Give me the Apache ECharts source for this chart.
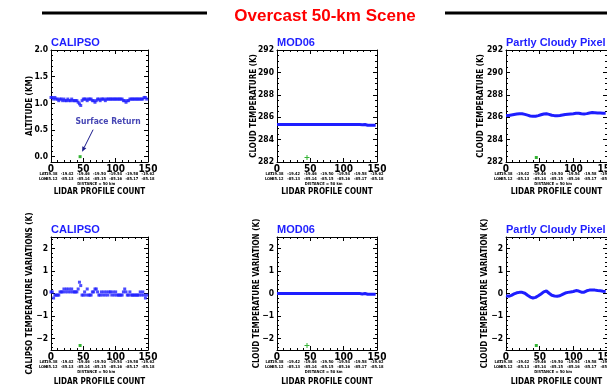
<!DOCTYPE html>
<html>
<head>
<meta charset="utf-8">
<script src="https://cdn.jsdelivr.net/npm/echarts@6/dist/echarts.min.js"></script>
<style>
  html, body { margin: 0; padding: 0; background: #fff; }
  #chart { width: 607px; height: 389px; }
</style>
</head>
<body>
<div id="chart"></div>
<script>
// ---- data ----
const profiles = [0, 2, 4, 6, 8, 10, 12, 14, 16, 18, 20, 22, 24, 26, 28, 30, 32, 34, 36, 38,
  40, 42, 44, 46, 48, 50, 52, 54, 56, 58, 60, 62, 64, 66, 68, 70, 72, 74, 76, 78,
  80, 82, 84, 86, 88, 90, 92, 94, 96, 98, 100, 102, 104, 106, 108, 110, 112, 114, 116, 118,
  120, 122, 124, 126, 128, 130, 132, 134, 136, 138, 140, 142, 144, 146, 148];

// CALIPSO cloud top altitude (km)
const calAlt = [1.11, 1.11, 1.08, 1.11, 1.08, 1.08, 1.05, 1.08, 1.08, 1.05,
  1.08, 1.05, 1.05, 1.08, 1.05, 1.05, 1.08, 1.05, 1.05, 1.05,
  1.05, 1.02, 0.99, 0.96, 1.05, 1.08, 1.08, 1.08, 1.05, 1.08,
  1.08, 1.08, 1.05, 1.05, 1.02, 1.05, 1.08, 1.08, 1.05, 1.08,
  1.08, 1.08, 1.05, 1.08, 1.08, 1.08, 1.08, 1.08, 1.08, 1.08,
  1.08, 1.08, 1.08, 1.08, 1.08, 1.08, 1.05, 1.05, 1.02, 1.05,
  1.05, 1.08, 1.08, 1.08, 1.08, 1.08, 1.08, 1.08, 1.08, 1.08,
  1.08, 1.08, 1.11, 1.11, 1.08];

// MOD06 cloud temperature (K)
const mod06T = [285.35, 285.35, 285.35, 285.35, 285.35, 285.35, 285.35, 285.35, 285.35, 285.35,
  285.35, 285.35, 285.35, 285.35, 285.35, 285.35, 285.35, 285.35, 285.35, 285.35,
  285.35, 285.35, 285.35, 285.35, 285.35, 285.35, 285.35, 285.35, 285.35, 285.35,
  285.35, 285.35, 285.35, 285.35, 285.35, 285.35, 285.35, 285.35, 285.35, 285.35,
  285.35, 285.35, 285.35, 285.35, 285.35, 285.35, 285.35, 285.35, 285.35, 285.35,
  285.35, 285.35, 285.35, 285.35, 285.35, 285.35, 285.35, 285.35, 285.35, 285.35,
  285.35, 285.35, 285.35, 285.35, 285.33, 285.3, 285.35, 285.3, 285.28, 285.28,
  285.28, 285.28, 285.28, 285.28, 285.28];

// partly cloudy pixel cloud temperature (K)
const pcT = [286.15, 286.15, 286.16, 286.18, 286.2, 286.22, 286.24, 286.26, 286.28, 286.3,
  286.31, 286.31, 286.3, 286.28, 286.25, 286.22, 286.18, 286.14, 286.11, 286.09,
  286.08, 286.08, 286.09, 286.11, 286.14, 286.18, 286.22, 286.26, 286.29, 286.31,
  286.31, 286.29, 286.25, 286.21, 286.17, 286.15, 286.14, 286.13, 286.13, 286.14,
  286.16, 286.18, 286.2, 286.22, 286.24, 286.26, 286.27, 286.28, 286.29, 286.3,
  286.31, 286.33, 286.35, 286.36, 286.36, 286.34, 286.31, 286.29, 286.29, 286.3,
  286.32, 286.35, 286.38, 286.4, 286.41, 286.41, 286.4, 286.39, 286.38, 286.37,
  286.37, 286.36, 286.35, 286.35, 286.35];

// CALIPSO temperature variations (K)
const calVar = [0.07, 0.07, -0.2, -0.07, -0.07, -0.07, -0.07, 0.07, 0.07, 0.07,
  0.2, 0.07, 0.2, 0.07, 0.2, 0.07, 0.2, 0.07, 0.07, 0.07,
  0.07, 0.2, 0.5, 0.35, -0.07, -0.07, 0.07, -0.07, 0.2, -0.07,
  -0.07, -0.07, 0.07, 0.07, 0.2, 0.2, 0.07, -0.07, -0.07, 0.07,
  -0.07, 0.07, -0.07, 0.07, -0.07, 0.07, 0.07, -0.07, 0.07, -0.07,
  0.07, -0.07, -0.07, -0.07, -0.07, -0.07, 0.07, 0.2, 0.07, -0.07,
  -0.07, 0.07, -0.07, -0.07, -0.07, -0.07, -0.07, -0.07, -0.07, 0.07,
  -0.07, 0.07, -0.07, -0.2, -0.07];

// MOD06 cloud temperature variation (K)
const mod06V = [0, 0, 0, 0, 0, 0, 0, 0, 0, 0,
  0, 0, 0, 0, 0, 0, 0, 0, 0, 0,
  0, 0, 0, 0, 0, 0, 0, 0, 0, 0,
  0, 0, 0, 0, 0, 0, 0, 0, 0, 0,
  0, 0, 0, 0, 0, 0, 0, 0, 0, 0,
  0, 0, 0, 0, 0, 0, 0, 0, 0, 0,
  0, 0, 0, 0, -0.02, -0.05, 0, -0.03, -0.03, -0.03,
  -0.03, -0.03, -0.03, -0.03, -0.03];

// partly cloudy pixel cloud temperature variation (K)
const pcV = [-0.1, -0.11, -0.12, -0.1, -0.08, -0.05, -0.02, 0.01, 0.03, 0.05,
  0.05, 0.06, 0.05, 0.03, 0.01, -0.03, -0.08, -0.13, -0.16, -0.19,
  -0.2, -0.19, -0.17, -0.14, -0.1, -0.06, -0.02, 0.03, 0.07, 0.1,
  0.11, 0.07, 0.01, -0.04, -0.08, -0.1, -0.11, -0.12, -0.12, -0.11,
  -0.1, -0.07, -0.04, -0.01, 0.02, 0.04, 0.05, 0.06, 0.07, 0.08,
  0.09, 0.11, 0.13, 0.13, 0.11, 0.08, 0.06, 0.05, 0.06, 0.09,
  0.12, 0.14, 0.15, 0.16, 0.16, 0.15, 0.15, 0.14, 0.13, 0.12,
  0.12, 0.11, 0.1, 0.1, 0.09];

// surface return marker (green)
const surfProfile = 45;
const surfValues = [0.0, 282.4, 282.4, -2.3, -2.3, -2.3];

// tick values
const altMajor = [0, 0.5, 1, 1.5, 2];
const altMinor = [0.1, 0.2, 0.3, 0.4, 0.6, 0.7, 0.8, 0.9, 1.1, 1.2, 1.3, 1.4, 1.6, 1.7, 1.8, 1.9];
const tempMajor = [282, 284, 286, 288, 290, 292];
const tempMinor = [282.5, 283, 283.5, 284.5, 285, 285.5, 286.5, 287, 287.5, 288.5, 289, 289.5, 290.5, 291, 291.5];
const varMajor = [-2, -1, 0, 1, 2];
const varMinor = [-2.4, -2.2, -1.8, -1.6, -1.4, -1.2, -0.8, -0.6, -0.4, -0.2,
  0.2, 0.4, 0.6, 0.8, 1.2, 1.4, 1.6, 1.8, 2.2, 2.4];

// tiny lat/lon labels under the profile axis
const geoProfiles = [0, 25, 50, 75, 100, 125, 150];
const latLabels = ['-19.38', '-19.42', '-19.46', '-19.50', '-19.54', '-19.58', '-19.62'];
const lonLabels = ['-85.12', '-85.13', '-85.14', '-85.15', '-85.16', '-85.17', '-85.18'];
const geoHeads = ['LAT', 'LON'];
const distText = 'DISTANCE = 50 km';

// ---- layout / styles ----
const NARROW = "'Liberation Sans Narrow','Arial Narrow','DejaVu Sans Condensed',sans-serif";
const SANS = "'Liberation Sans',Arial,sans-serif";
const BLUE = '#1e1eff';
const GREEN = '#00a000';
const PLUS = 'path://M2,0H3V2H5V3H3V5H2V3H0V2H2Z';

const layout = [
  { left: 51, top: 50, width: 97, height: 112 },
  { left: 277, top: 50, width: 100, height: 112 },
  { left: 506, top: 50, width: 101, height: 112 },
  { left: 51, top: 237, width: 97, height: 113 },
  { left: 277, top: 237, width: 100, height: 113 },
  { left: 506, top: 237, width: 101, height: 113 }
];

const minusFmt = v => String(v).replace('-', '\u2212');

const panels = [
  { title: 'CALIPSO', yName: 'ALTITUDE (KM)', nameX: 30, min: -0.1, max: 2, major: altMajor, minor: altMinor, fmt: v => v.toFixed(1), values: calAlt, dots: true, plus: false },
  { title: 'MOD06', yName: 'CLOUD TEMPERATURE (K)', nameX: 254, min: 282, max: 292, major: tempMajor, minor: tempMinor, fmt: v => String(v), values: mod06T, dots: false, plus: true },
  { title: 'Partly Cloudy Pixel', yName: 'CLOUD TEMPERATURE (K)', nameX: 481, min: 282, max: 292, major: tempMajor, minor: tempMinor, fmt: v => String(v), values: pcT, dots: false, plus: false },
  { title: 'CALIPSO', yName: 'CALIPSO TEMPERATURE VARIATIONS (K)', nameX: 30, min: -2.5, max: 2.5, major: varMajor, minor: varMinor, fmt: minusFmt, values: calVar, dots: true, plus: false },
  { title: 'MOD06', yName: 'CLOUD TEMPERATURE VARIATION (K)', nameX: 257, min: -2.5, max: 2.5, major: varMajor, minor: varMinor, fmt: minusFmt, values: mod06V, dots: false, plus: true },
  { title: 'Partly Cloudy Pixel', yName: 'CLOUD TEMPERATURE VARIATION (K)', nameX: 485, min: -2.5, max: 2.5, major: varMajor, minor: varMinor, fmt: minusFmt, values: pcV, dots: false, plus: false }
];

const black = { color: '#000', width: 1 };

function makeXAxes(g) {
  const base = {
    type: 'value', gridIndex: g, min: 0, max: 150, interval: 50,
    axisLine: { show: true, onZero: false, lineStyle: black },
    axisTick: { show: true, inside: true, length: 4, lineStyle: black },
    minorTick: { show: true, splitNumber: 5, length: 2, lineStyle: black },
    splitLine: { show: false }, minorSplitLine: { show: false }
  };
  return [
    Object.assign({}, base, { position: 'bottom',
      axisLabel: { show: true, margin: 2, color: '#000', fontSize: 10, fontWeight: 'bold', fontFamily: NARROW } }),
    Object.assign({}, base, { position: 'top', axisLabel: { show: false } })
  ];
}

function makeYAxes(g, p) {
  const base = { type: 'value', gridIndex: g, min: p.min, max: p.max, splitLine: { show: false } };
  const major = (pos, labels) => Object.assign({}, base, {
    position: pos,
    axisLine: { show: true, onZero: false, lineStyle: black },
    axisTick: { show: true, inside: true, length: 4, customValues: p.major, lineStyle: black },
    axisLabel: { show: labels, customValues: p.major, formatter: p.fmt, margin: 3, color: '#000',
      fontSize: 8.5, fontWeight: 'bold', fontFamily: NARROW }
  });
  const minor = pos => Object.assign({}, base, {
    position: pos,
    axisLine: { show: false, onZero: false },
    axisTick: { show: true, inside: true, length: 2, customValues: p.minor, lineStyle: black },
    axisLabel: { show: false }
  });
  return [major('left', true), minor('left'), major('right', false), minor('right')];
}

const grid = [], xAxis = [], yAxis = [], series = [];
panels.forEach((p, i) => {
  grid.push(Object.assign({ containLabel: false, outerBoundsMode: 'none' }, layout[i]));
  xAxis.push(...makeXAxes(i));
  yAxis.push(...makeYAxes(i, p));
  const pts = p.values.map((v, k) => [profiles[k], v]);
  if (p.dots) {
    series.push({ type: 'scatter', xAxisIndex: 2 * i, yAxisIndex: 4 * i, data: pts,
      symbol: 'rect', symbolSize: 3, itemStyle: { color: BLUE }, silent: true });
  } else {
    series.push({ type: 'line', xAxisIndex: 2 * i, yAxisIndex: 4 * i, data: pts,
      showSymbol: false, lineStyle: { color: BLUE, width: 3 }, itemStyle: { color: BLUE }, silent: true });
  }
  series.push({ type: 'scatter', xAxisIndex: 2 * i, yAxisIndex: 4 * i, data: [[surfProfile, surfValues[i]]],
    symbol: p.plus ? PLUS : 'rect', symbolSize: p.plus ? 5 : 3, itemStyle: { color: GREEN }, z: 5, silent: true });
});

const chart = echarts.init(document.getElementById('chart'), null, { renderer: 'canvas' });
chart.setOption({ animation: false, backgroundColor: '#fff', grid, xAxis, yAxis, series });

// ---- texts and decorations ----
const gfx = [];
gfx.push({ type: 'line', shape: { x1: 42, y1: 13, x2: 207, y2: 13 }, style: { stroke: '#000', lineWidth: 3 } });
gfx.push({ type: 'line', shape: { x1: 445, y1: 13, x2: 607, y2: 13 }, style: { stroke: '#000', lineWidth: 3 } });
gfx.push({ type: 'text', x: 325, y: 16, style: { text: 'Overcast 50-km Scene', fill: '#ff0000',
  fontSize: 17, fontWeight: 'bold', fontFamily: SANS, align: 'center', verticalAlign: 'middle' } });

panels.forEach((p, i) => {
  const L = layout[i];
  const row = i < 3 ? 0 : 1;
  const bottom = L.top + L.height;
  gfx.push({ type: 'text', x: L.left, y: row ? 230 : 43, style: { text: p.title, fill: BLUE,
    fontSize: 11, fontWeight: 'bold', fontFamily: SANS, align: 'left', verticalAlign: 'middle' } });
  gfx.push({ type: 'text', x: p.nameX, y: L.top + L.height / 2, rotation: Math.PI / 2, style: { text: p.yName,
    fill: '#000', fontSize: 8, fontWeight: 'bold', fontFamily: NARROW, align: 'center', verticalAlign: 'middle' } });
  gfx.push({ type: 'text', x: L.left + L.width / 2, y: bottom + (row ? 32 : 30), style: { text: 'LIDAR PROFILE COUNT',
    fill: '#000', fontSize: 8, fontWeight: 'bold', fontFamily: NARROW, align: 'center', verticalAlign: 'middle' } });
  const tiny = (x, y, t) => ({ type: 'text', x, y, style: { text: t, fill: '#000', fontSize: 4,
    fontWeight: 'bold', fontFamily: NARROW, align: 'center', verticalAlign: 'middle' } });
  gfx.push(tiny(L.left - 8, bottom + 12, geoHeads[0]));
  gfx.push(tiny(L.left - 8, bottom + 17, geoHeads[1]));
  geoProfiles.forEach((gp, k) => {
    const x = chart.convertToPixel({ xAxisIndex: 2 * i }, gp);
    gfx.push(tiny(x, bottom + 12, latLabels[k]));
    gfx.push(tiny(x, bottom + 17, lonLabels[k]));
  });
  gfx.push(tiny(chart.convertToPixel({ xAxisIndex: 2 * i }, 70), bottom + 22, distText));
});

// "Surface Return" annotation with arrow, anchored on the green point of panel 1
const sx = chart.convertToPixel({ xAxisIndex: 0 }, surfProfile);
const sy = chart.convertToPixel({ yAxisIndex: 0 }, surfValues[0]);
const tip = [sx + 2, sy - 5], tail = [sx + 13, sy - 27];
const dx = tip[0] - tail[0], dy = tip[1] - tail[1], len = Math.hypot(dx, dy);
const ux = dx / len, uy = dy / len;
const hb = [tip[0] - ux * 5, tip[1] - uy * 5];
gfx.push({ type: 'text', x: sx + 28, y: sy - 35, style: { text: 'Surface Return', fill: '#4646b4',
  fontSize: 8.5, fontWeight: 'bold', fontFamily: NARROW, align: 'center', verticalAlign: 'middle' } });
gfx.push({ type: 'line', shape: { x1: tail[0], y1: tail[1], x2: hb[0], y2: hb[1] }, style: { stroke: '#1c1c8c', lineWidth: 1 } });
gfx.push({ type: 'polygon', shape: { points: [tip, [hb[0] - uy * 2.2, hb[1] + ux * 2.2], [hb[0] + uy * 2.2, hb[1] - ux * 2.2]] },
  style: { fill: '#1c1c8c' } });

chart.setOption({ graphic: gfx });
</script>
</body>
</html>
